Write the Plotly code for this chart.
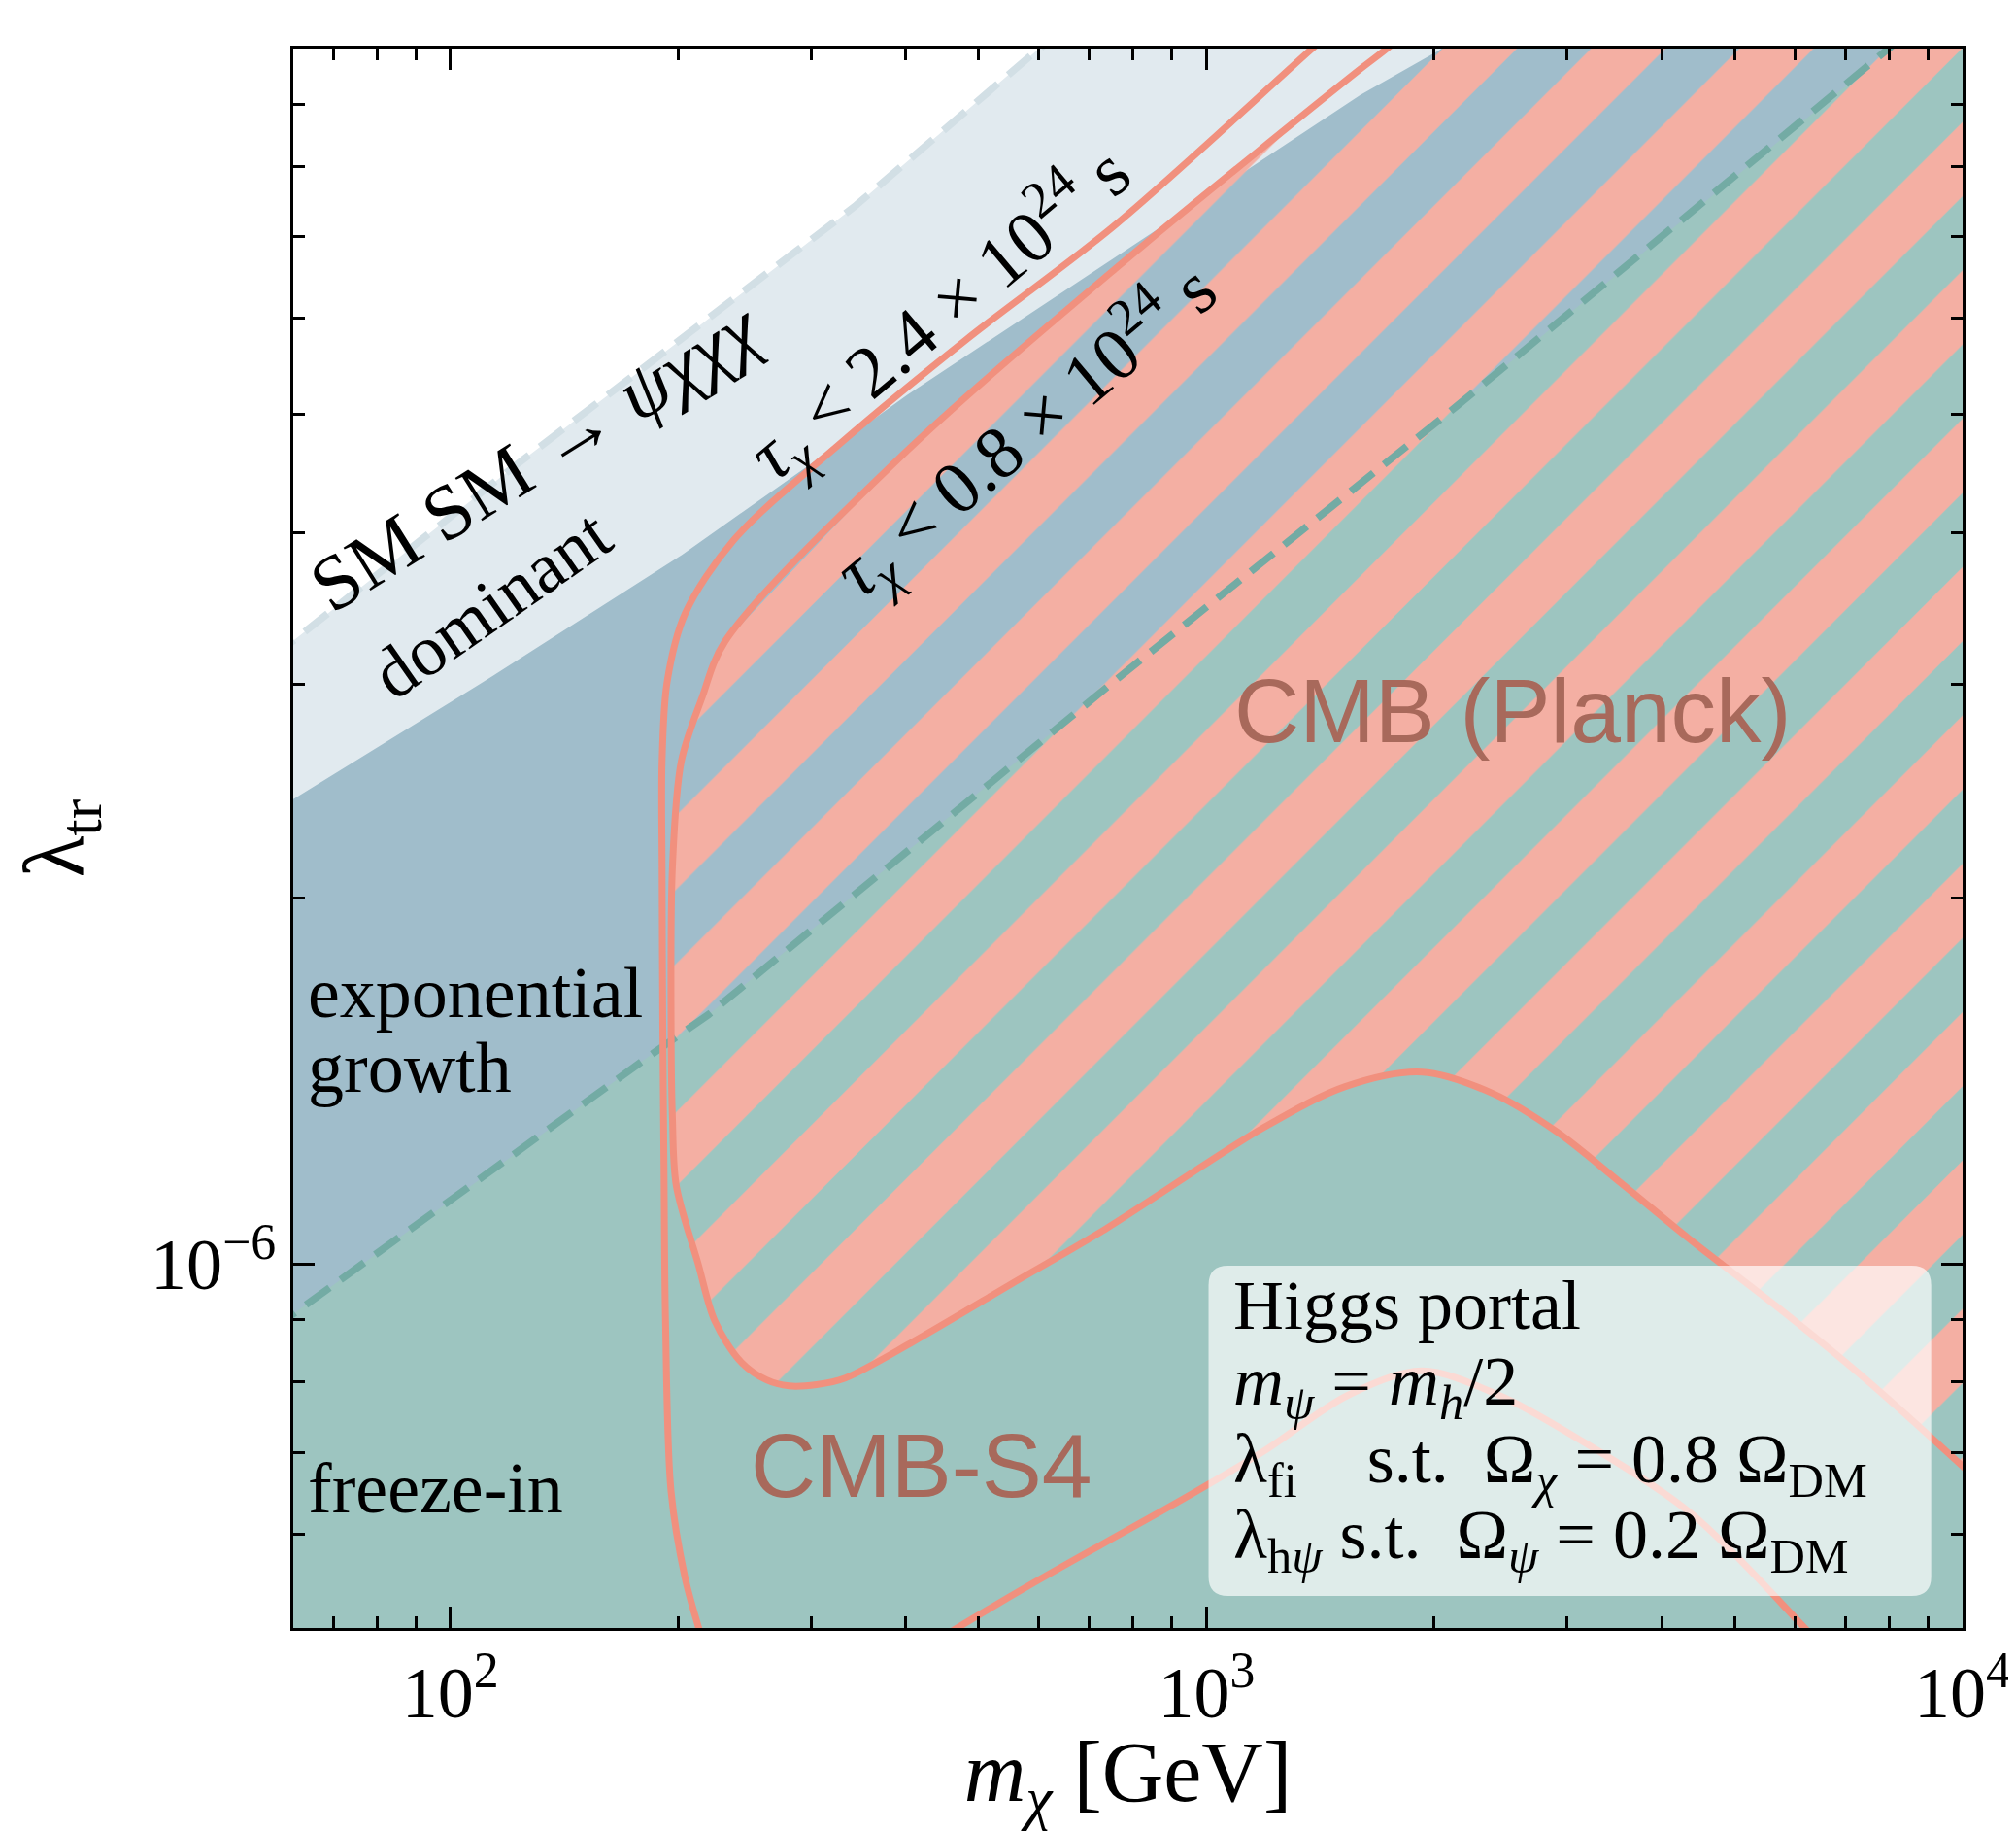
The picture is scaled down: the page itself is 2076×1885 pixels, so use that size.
import numpy as np
import plotly.graph_objects as go

# ---------------- axis limits ----------------
X_MIN, X_MAX = 62.0, 1.0e4
Y_MIN, Y_MAX = 5.02e-7, 1.0e-5
XL, XR, YB, YT = X_MIN / 1.3, X_MAX * 1.3, Y_MIN / 1.3, Y_MAX * 1.3

# ---------------- data ----------------
# light dashed line: "SM SM -> psi chi chi chi dominant" boundary
sm_m = [58, 62.5, 122, 264, 344, 595, 660]
sm_lam = [3.15e-6, 3.27e-6, 4.54e-6, 6.54e-6, 7.43e-6, 9.95e-6, 1.045e-5]

# boundary between light region and "exponential growth" region
exp_m = [58, 62.7, 109.4, 202.7, 329.5, 402.2, 1094, 1598, 2021, 2300]
exp_lam = [2.35e-6, 2.423e-6, 3.0e-6, 3.835e-6, 4.746e-6, 5.19e-6, 7.835e-6, 9.16e-6, 9.95e-6, 1.045e-5]

# teal dashed line: freeze-in / exponential growth boundary
fi_m = [58, 62.6, 109, 185.5, 219.4, 757.8, 2151, 7971, 10157]
fi_lam = [8.83e-7, 9.14e-7, 1.172e-6, 1.491e-6, 1.604e-6, 3.022e-6, 5.09e-6, 9.95e-6, 1.132e-5]

# CMB-S4 contour, upper/left branch (tau < 2.4e24 s)
s4a_m = [1618, 1367.6, 757.8, 481.5, 329.5, 237.2, 204.5, 193.6, 190.6, 190.6,
         191.0, 191.7, 192.6, 195.9, 204.3, 213.1, 224.6]
s4a_lam = [1.092e-5, 9.95e-6, 7.161e-6, 5.764e-6, 4.746e-6, 3.943e-6, 3.43e-6, 3.016e-6,
           2.593e-6, 2.123e-6, 1.573e-6, 1.206e-6, 8.98e-7, 6.50e-7, 5.53e-7, 5.02e-7, 4.51e-7]

# CMB-S4 contour, lower branch
s4c_m = [428.2, 465.7, 585.5, 733.8, 935.6, 1192, 1538, 1928, 2439, 3083, 4384, 6208, 6871]
s4c_lam = [4.85e-7, 5.01e-7, 5.45e-7, 5.90e-7, 6.42e-7, 7.02e-7, 7.80e-7, 8.17e-7,
           7.80e-7, 7.20e-7, 6.23e-7, 5.006e-7, 4.68e-7]

# CMB (Planck) contour (tau < 0.8e24 s)
pl_m = [1891, 1715, 1598, 757.8, 391.4, 230.8, 215.1, 202.1, 196.7, 195.9, 196.7, 199.0,
        212.7, 223.8, 242.4, 262.0, 280.7, 305.0, 332.9, 410.2, 562.9, 733.8, 1192, 1526,
        1928, 2391, 2907, 3535, 4384, 5651, 7430, 10000, 11420]
pl_lam = [1.045e-5, 9.95e-6, 9.62e-6, 6.59e-6, 4.596e-6, 3.252e-6, 2.921e-6, 2.593e-6,
          2.123e-6, 1.573e-6, 1.320e-6, 1.161e-6, 1.001e-6, 8.98e-7, 8.31e-7, 8.03e-7,
          7.94e-7, 7.96e-7, 8.06e-7, 8.64e-7, 9.70e-7, 1.068e-6, 1.296e-6, 1.400e-6,
          1.439e-6, 1.382e-6, 1.285e-6, 1.166e-6, 1.045e-6, 9.25e-7, 8.05e-7, 6.82e-7, 6.31e-7]

x_tickvals = [1e2, 1e3, 1e4]
x_ticktext = ["10<sup>2</sup>", "10<sup>3</sup>", "10<sup>4</sup>"]
y_tickvals = [1e-6, 1e-5]
y_ticktext = ["10<sup>\u22126</sup>", "10<sup>\u22125</sup>"]

# ---------------- colours ----------------
C_LIGHT = "#E1EAEF"
C_BLUE = "#A0BDCB"
C_TEAL = "#9DC5C0"
C_PINK = "#F4AFA3"
C_SALMON = "#F1907E"
C_TEAL_DASH = "#73ABA4"
C_LIGHT_DASH = "#D2DFE5"
C_LABEL = "#A8695B"

SERIF = "Liberation Serif"
SANS = "Liberation Sans"


def region_below(mx, ly):
    """polygon: boundary curve then close along the lower-right outside the view"""
    xs = list(mx) + [XR, XR, XL]
    ys = list(ly) + [YT, YB, YB]
    return xs, ys


fig = go.Figure()

xs, ys = region_below(sm_m, sm_lam)
fig.add_trace(go.Scatter(x=xs, y=ys, fill="toself", fillcolor=C_LIGHT, mode="none",
                         hoverinfo="skip"))
xs, ys = region_below(exp_m, exp_lam)
fig.add_trace(go.Scatter(x=xs, y=ys, fill="toself", fillcolor=C_BLUE, mode="none",
                         hoverinfo="skip"))
xs, ys = region_below(fi_m, fi_lam)
fig.add_trace(go.Scatter(x=xs, y=ys, fill="toself", fillcolor=C_TEAL, mode="none",
                         hoverinfo="skip"))

# hatched Planck region
hx = list(pl_m) + [XR, pl_m[0]]
hy = list(pl_lam) + [YT, YT]
fig.add_trace(go.Scatter(
    x=hx, y=hy, fill="toself", mode="none", fillcolor="rgba(0,0,0,0)",
    fillpattern=dict(shape="/", size=108, solidity=0.5, fgcolor=C_PINK,
                     bgcolor="rgba(0,0,0,0)", fgopacity=1.0),
    hoverinfo="skip"))

# dashed boundaries
fig.add_trace(go.Scatter(x=sm_m, y=sm_lam, mode="lines",
                         line=dict(color=C_LIGHT_DASH, width=7.5, dash="30px,14px"),
                         hoverinfo="skip"))
fig.add_trace(go.Scatter(x=fi_m, y=fi_lam, mode="lines",
                         line=dict(color=C_TEAL_DASH, width=7.5, dash="30px,14px"),
                         hoverinfo="skip"))

# contours
for mx, ly in [(s4a_m, s4a_lam), (s4c_m, s4c_lam), (pl_m, pl_lam)]:
    fig.add_trace(go.Scatter(x=mx, y=ly, mode="lines",
                             line=dict(color=C_SALMON, width=7, shape="spline", smoothing=0.9),
                             hoverinfo="skip"))

# ---------------- info box ----------------
bx0, bx1, by0, by1 = 0.5483, 0.9812, 0.0203, 0.2294
rx, ry = 0.0116, 0.0123
path = (f"M {bx0+rx},{by0} L {bx1-rx},{by0} Q {bx1},{by0} {bx1},{by0+ry} "
        f"L {bx1},{by1-ry} Q {bx1},{by1} {bx1-rx},{by1} L {bx0+rx},{by1} "
        f"Q {bx0},{by1} {bx0},{by1-ry} L {bx0},{by0+ry} Q {bx0},{by0} {bx0+rx},{by0} Z")
fig.add_shape(type="path", path=path, xref="paper", yref="paper",
              fillcolor="rgba(255,255,255,0.67)", line=dict(width=0), layer="above")

NB = "\u00a0"
box_lines = [
    ("Higgs portal", 0.2042),
    ("<i>m</i><sub><i>ψ</i></sub> = <i>m</i><sub><i>h</i></sub>/2", 0.1531),
    ("λ<sub>fi</sub>" + NB * 4 + "s.t." + NB * 2 + "Ω<sub><i>χ</i></sub> = 0.8" + NB + "Ω<sub>DM</sub>", 0.1039),
    ("λ<sub>h<i>ψ</i></sub>" + NB + "s.t." + NB * 2 + "Ω<sub><i>ψ</i></sub> = 0.2" + NB + "Ω<sub>DM</sub>", 0.0560),
]
annotations = []
for txt, yy in box_lines:
    annotations.append(dict(text=txt, x=0.562, y=yy, xref="paper", yref="paper",
                            xanchor="left", yanchor="middle", showarrow=False,
                            font=dict(family=SERIF, size=72, color="black")))

# region labels
serif_labels = [
    ("exponential", 0.0076, 0.402),
    ("growth", 0.0076, 0.355),
    ("freeze-in", 0.0076, 0.0886),
]
for txt, xx, yy in serif_labels:
    annotations.append(dict(text=txt, x=xx, y=yy, xref="paper", yref="paper",
                            xanchor="left", yanchor="middle", showarrow=False,
                            font=dict(family=SERIF, size=74, color="black")))

rot_labels = [
    ("SM SM → <i>ψχχχ</i>", 0.1450, 0.7420, -32, 80),
    ("dominant", 0.1187, 0.6482, -35, 74),
    ("<i>τ</i><sub><i>χ</i></sub> &lt; 2.4 × 10<sup>24</sup> s", 0.3866, 0.8327, -40, 76),
    ("<i>τ</i><sub><i>χ</i></sub> &lt; 0.8 × 10<sup>24</sup> s", 0.4381, 0.7580, -40, 76),
]
for txt, xx, yy, ang, fs in rot_labels:
    annotations.append(dict(text=txt, x=xx, y=yy, xref="paper", yref="paper",
                            xanchor="center", yanchor="middle", showarrow=False,
                            textangle=ang,
                            font=dict(family=SERIF, size=fs, color="black")))

for txt, xx, yy in [("CMB (Planck)", 0.7307, 0.5806), ("CMB-S4", 0.3758, 0.1027)]:
    annotations.append(dict(text=txt, x=xx, y=yy, xref="paper", yref="paper",
                            xanchor="center", yanchor="middle", showarrow=False,
                            font=dict(family=SANS, size=93, color=C_LABEL)))

x_minor = [m * 10 ** e for e in (1, 2, 3) for m in range(2, 10)]
y_minor = [m * 10 ** e for e in (-7, -6) for m in range(2, 10)]

axis_common = dict(
    type="log", showline=True, linecolor="black", linewidth=3, mirror="allticks",
    ticks="inside", ticklen=22, tickwidth=3, tickcolor="black",
    showgrid=False, zeroline=False, automargin=False,
    tickfont=dict(family=SERIF, size=74, color="black"),
)

# the page body adds an 8 px offset, so the figure is shifted/shrunk accordingly
fig.update_layout(
    width=2068, height=1877,
    margin=dict(l=294, r=55, t=42, b=209),
    plot_bgcolor="white", paper_bgcolor="white",
    showlegend=False,
    annotations=annotations,
    xaxis=dict(
        **axis_common,
        range=[np.log10(X_MIN), np.log10(X_MAX)],
        tickvals=x_tickvals, ticktext=x_ticktext,
        minor=dict(ticks="inside", ticklen=12, tickwidth=2.5, tickcolor="black",
                   tickvals=x_minor, showgrid=False),
        title=dict(text="<i>m</i><sub><i>χ</i></sub> [GeV]", standoff=34,
                   font=dict(family=SERIF, size=88, color="black")),
    ),
    yaxis=dict(
        **axis_common,
        range=[np.log10(Y_MIN), np.log10(Y_MAX)],
        tickvals=y_tickvals, ticktext=y_ticktext,
        minor=dict(ticks="inside", ticklen=12, tickwidth=2.5, tickcolor="black",
                   tickvals=y_minor, showgrid=False),
        title=dict(text="λ<sub>tr</sub>", standoff=40,
                   font=dict(family=SERIF, size=88, color="black")),
    ),
)

fig.write_html("out.html")
